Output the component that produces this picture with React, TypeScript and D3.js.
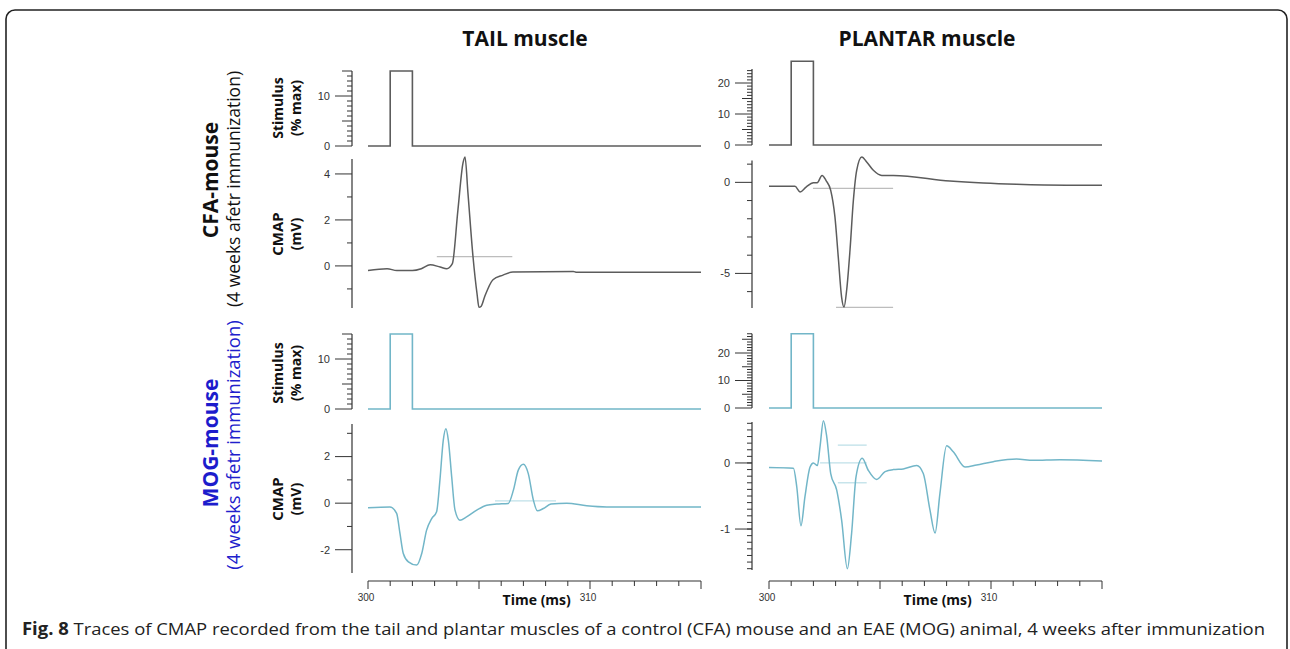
import * as d3 from "d3";

// stimulus pulse (ms / % max)
const stimTime = [300, 301, 301, 302, 302, 315];
const stimTail = [0, 0, 15, 15, 0, 0];
const stimPlantar = [0, 0, 27, 27, 0, 0];

// CMAP traces (ms / mV)
const cfaTailT = [300, 300.86, 301.3, 302, 302.4, 302.8, 303.25, 303.55, 303.8, 304.05, 304.28, 304.37, 304.5, 304.73, 304.91, 305.0, 305.1, 305.25, 305.63, 306.08, 306.53, 309.25, 309.4, 315];
const cfaTailV = [-0.2, -0.12, -0.2, -0.2, -0.12, 0.05, -0.05, -0.12, 0.1, 2.43, 4.48, 4.74, 3.2, 0.4, -1.2, -1.8, -1.75, -1.35, -0.6, -0.4, -0.26, -0.24, -0.28, -0.28];

const cfaPlantarT = [300, 301.17, 301.4, 301.67, 302.0, 302.17, 302.39, 302.57, 302.78, 302.97, 303.12, 303.27, 303.38, 303.5, 303.65, 303.8, 303.95, 304.18, 304.4, 304.7, 305.08, 305.6, 308.15, 309.65, 311.15, 313.4, 315];
const cfaPlantarV = [-0.22, -0.22, -0.53, -0.26, -0.02, -0.02, 0.38, 0.1, -0.44, -1.9, -4.1, -6.3, -6.85, -5.9, -3.7, -1.0, 0.66, 1.39, 1.12, 0.66, 0.38, 0.38, 0.07, -0.04, -0.11, -0.16, -0.16];

const mogTailT = [300, 300.99, 301.29, 301.44, 301.59, 301.82, 302.19, 302.42, 302.64, 302.87, 303.09, 303.24, 303.39, 303.51, 303.62, 303.77, 303.92, 304.14, 304.44, 304.9, 305.35, 305.8, 306.32, 306.55, 306.77, 307.0, 307.22, 307.45, 307.63, 307.9, 308.24, 308.95, 309.85, 310.75, 315];
const mogTailV = [-0.2, -0.16, -0.44, -1.3, -2.16, -2.52, -2.66, -2.16, -1.16, -0.66, -0.37, 0.99, 2.7, 3.2, 2.7, 1.13, -0.3, -0.73, -0.59, -0.3, -0.09, -0.04, -0.01, 0.56, 1.42, 1.67, 1.27, 0.13, -0.33, -0.23, -0.04, 0.0, -0.11, -0.16, -0.16];

const mogPlantarT = [300, 301.1, 301.25, 301.44, 301.62, 301.85, 302.0, 302.18, 302.3, 302.45, 302.6, 302.78, 303.05, 303.27, 303.53, 303.72, 303.92, 304.2, 304.47, 304.85, 305.23, 305.6, 306.05, 306.65, 306.95, 307.25, 307.48, 307.7, 308.0, 308.3, 308.83, 309.35, 310.1, 311.15, 311.9, 313.1, 315];
const mogPlantarV = [-0.07, -0.08, -0.36, -0.95, -0.51, -0.06, 0.0, -0.04, 0.25, 0.64, 0.4, -0.16, -0.41, -0.86, -1.6, -1.07, -0.21, 0.07, -0.11, -0.25, -0.13, -0.1, -0.09, -0.04, -0.16, -0.71, -1.06, -0.46, 0.26, 0.17, -0.06, -0.03, 0.02, 0.06, 0.04, 0.05, 0.03];

// cursor lines: [start ms, end ms, mV]
const cfaTailMarks = [[303.1, 306.5, 0.4]];
const cfaPlantarMarks = [[301.98, 305.59, -0.33], [303.02, 305.59, -6.87]];
const mogTailMarks = [[305.72, 308.47, 0.1]];
const mogPlantarMarks = [[303.1, 304.4, 0.27], [302.3, 304.4, 0.0], [303.1, 304.4, -0.3]];

const timeLabels = [300, 310];

const GRAY = "#5c5c5c";
const BLUE = "#72b6c8";
const AXIS = "#333";
const SANS = "'Open Sans', 'Noto Sans', sans-serif";
const ARIAL = "'Liberation Sans', Arial, sans-serif";

type Panel = {
  key: string;
  xr: [number, number];
  axisX: number;
  color: string;
  markColor: string;
  stim: number[];
  stimDomain: [number, number];
  stimRange: [number, number];
  stimTop: number;
  cmapT: number[];
  cmapV: number[];
  cmapDomain: [number, number];
  cmapRange: [number, number];
  cmapLabels: number[];
  cmapMinor: number[];
  marks: number[][];
  ylabels: { stim: number; cmap: number } | null;
  timeAxisY: number | null;
};

const panels: Panel[] = [
  {
    key: "cfa-tail", xr: [368, 701], axisX: 352, color: GRAY, markColor: "#bdbdbd",
    stim: stimTail, stimDomain: [0, 15], stimRange: [146, 71], stimTop: 15,
    cmapT: cfaTailT, cmapV: cfaTailV, cmapDomain: [-1.83, 4.65], cmapRange: [308, 159],
    cmapLabels: [0, 2, 4], cmapMinor: [-1, 1, 3], marks: cfaTailMarks,
    ylabels: { stim: 108, cmap: 234 }, timeAxisY: null,
  },
  {
    key: "cfa-plantar", xr: [769, 1102], axisX: 752, color: GRAY, markColor: "#bdbdbd",
    stim: stimPlantar, stimDomain: [0, 25], stimRange: [145, 67.5], stimTop: 24.5,
    cmapT: cfaPlantarT, cmapV: cfaPlantarV, cmapDomain: [-6.9, 1.2], cmapRange: [308, 160.5],
    cmapLabels: [0, -5], cmapMinor: [-6, -4, -3, -2, -1, 1], marks: cfaPlantarMarks,
    ylabels: null, timeAxisY: null,
  },
  {
    key: "mog-tail", xr: [368, 701], axisX: 352, color: BLUE, markColor: "#bfe0e8",
    stim: stimTail, stimDomain: [0, 15], stimRange: [409, 334], stimTop: 15,
    cmapT: mogTailT, cmapV: mogTailV, cmapDomain: [-3.0, 3.4], cmapRange: [573, 424],
    cmapLabels: [-2, 0, 2], cmapMinor: [-1, 1, 3], marks: mogTailMarks,
    ylabels: { stim: 373, cmap: 499 }, timeAxisY: 581,
  },
  {
    key: "mog-plantar", xr: [769, 1102], axisX: 752, color: BLUE, markColor: "#bfe0e8",
    stim: stimPlantar, stimDomain: [0, 27], stimRange: [408, 333.75], stimTop: 27,
    cmapT: mogPlantarT, cmapV: mogPlantarV, cmapDomain: [-1.62, 0.62], cmapRange: [570, 422],
    cmapLabels: [-1, 0], cmapMinor: d3.range(-16, 7).map((d) => d / 10), marks: mogPlantarMarks,
    ylabels: null, timeAxisY: 581,
  },
];

function TracePanel({ p }: { p: Panel }) {
  const x = d3.scaleLinear().domain([300, 315]).range(p.xr);
  const ys = d3.scaleLinear().domain(p.stimDomain).range(p.stimRange);
  const yc = d3.scaleLinear().domain(p.cmapDomain).range(p.cmapRange);

  const stimLine = d3.line<number>().x((_, i) => x(stimTime[i])).y((d) => ys(d));
  const cmapLine = d3
    .line<number>()
    .x((_, i) => x(p.cmapT[i]))
    .y((d) => yc(d))
    .curve(d3.curveMonotoneX);

  const stimTicks = d3.range(0, Math.floor(p.stimTop) + 1);
  const ax = p.axisX;

  return (
    <g>
      {/* stimulus axis */}
      <line x1={ax} x2={ax} y1={ys(0)} y2={ys(p.stimTop)} stroke={AXIS} strokeWidth={1.2} />
      {stimTicks.map((t) => {
        const len = t % 10 === 0 ? 17 : t % 5 === 0 ? 10 : 5;
        return <line key={"s" + t} x1={ax - len} x2={ax} y1={ys(t)} y2={ys(t)} stroke={AXIS} strokeWidth={1} />;
      })}
      {stimTicks.filter((t) => t % 10 === 0).map((t) => (
        <text key={"sl" + t} x={ax - 22} y={ys(t)} dy="0.35em" textAnchor="end" fontSize={11} fill="#333" fontFamily={ARIAL}>
          {t}
        </text>
      ))}
      <path d={stimLine(p.stim) ?? ""} fill="none" stroke={p.color} strokeWidth={1.6} />

      {/* CMAP axis */}
      <line x1={ax} x2={ax} y1={p.cmapRange[0]} y2={p.cmapRange[1]} stroke={AXIS} strokeWidth={1.2} />
      {p.cmapMinor.map((t) => (
        <line key={"m" + t} x1={ax - 5} x2={ax} y1={yc(t)} y2={yc(t)} stroke={AXIS} strokeWidth={1} />
      ))}
      {p.cmapLabels.map((t) => (
        <g key={"c" + t}>
          <line x1={ax - 17} x2={ax} y1={yc(t)} y2={yc(t)} stroke={AXIS} strokeWidth={1} />
          <text x={ax - 22} y={yc(t)} dy="0.35em" textAnchor="end" fontSize={11} fill="#333" fontFamily={ARIAL}>
            {t}
          </text>
        </g>
      ))}
      {p.marks.map((m, i) => (
        <line key={"k" + i} x1={x(m[0])} x2={x(m[1])} y1={yc(m[2])} y2={yc(m[2])} stroke={p.markColor} strokeWidth={1.3} />
      ))}
      <path d={cmapLine(p.cmapV) ?? ""} fill="none" stroke={p.color} strokeWidth={1.5} />

      {p.ylabels && (
        <g fontFamily={SANS} fontWeight="bold" fontSize={14} fill="#111" textAnchor="middle">
          <text transform={`translate(283,${p.ylabels.stim}) rotate(-90)`}>Stimulus</text>
          <text transform={`translate(301,${p.ylabels.stim}) rotate(-90)`}>(% max)</text>
          <text transform={`translate(283,${p.ylabels.cmap}) rotate(-90)`} fontSize={15}>CMAP</text>
          <text transform={`translate(301,${p.ylabels.cmap}) rotate(-90)`}>(mV)</text>
        </g>
      )}

      {p.timeAxisY !== null && (
        <g>
          <line x1={x(300)} x2={x(315)} y1={p.timeAxisY} y2={p.timeAxisY} stroke={AXIS} strokeWidth={1.2} />
          {d3.range(300, 316).map((t) => (
            <line key={"t" + t} x1={x(t)} x2={x(t)} y1={p.timeAxisY!} y2={p.timeAxisY! + (t % 5 === 0 ? 8 : 5)} stroke={AXIS} strokeWidth={1} />
          ))}
          {timeLabels.map((t) => (
            <text key={"tl" + t} x={x(t) - 2} y={p.timeAxisY! + 20} textAnchor="middle" fontSize={10} fill="#333" fontFamily={ARIAL}>
              {t}
            </text>
          ))}
          <text x={x(307.6)} y={p.timeAxisY + 24} textAnchor="middle" fontSize={14} fontWeight="bold" fontFamily={SANS} fill="#111">
            Time (ms)
          </text>
        </g>
      )}
    </g>
  );
}

export default function App() {
  return (
    <svg width={1290} height={649} style={{ position: "absolute", left: 0, top: 0, background: "#fff" }}>
      <rect x={6} y={10} width={1281} height={700} rx={9} fill="#fff" stroke="#222" strokeWidth={1.6} />

      <g fontFamily={SANS} fontWeight="bold" fontSize={21} fill="#111" textAnchor="middle">
        <text x={525} y={46}>TAIL muscle</text>
        <text x={927} y={46}>PLANTAR muscle</text>
      </g>

      <g fontFamily={SANS} textAnchor="middle">
        <text transform="translate(218,180) rotate(-90)" fontSize={21} fontWeight="bold" fill="#111">CFA-mouse</text>
        <text transform="translate(240,189) rotate(-90)" fontSize={17.5} fill="#111">(4 weeks afetr immunization)</text>
        <text transform="translate(218,443) rotate(-90)" fontSize={21} fontWeight="bold" fill="#1c1ccc">MOG-mouse</text>
        <text transform="translate(240,445) rotate(-90)" fontSize={18.5} fill="#2020cc">(4 weeks afetr immunization)</text>
      </g>

      {panels.map((p) => (
        <TracePanel key={p.key} p={p} />
      ))}

      <text x={22} y={635} fontFamily={SANS} fontSize={17} fill="#222" textLength={1243} lengthAdjust="spacingAndGlyphs">
        <tspan fontWeight="bold">Fig. 8</tspan>
        <tspan> Traces of CMAP recorded from the tail and plantar muscles of a control (CFA) mouse and an EAE (MOG) animal, 4 weeks after immunization</tspan>
      </text>
    </svg>
  );
}
